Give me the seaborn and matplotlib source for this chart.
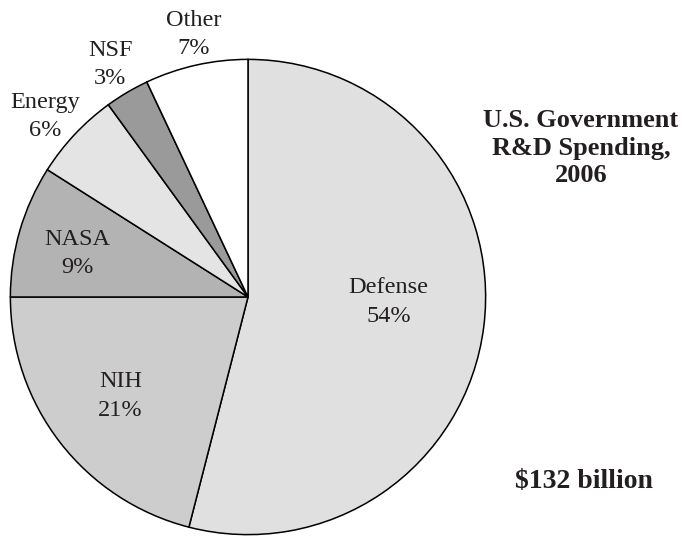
import matplotlib
matplotlib.use("Agg")
import matplotlib.pyplot as plt
import seaborn as sns

# data
categories = ["Defense", "NIH", "NASA", "Energy", "NSF", "Other"]
shares = [54, 21, 9, 6, 3, 7]
slice_colors = ["#e0e0e0", "#cdcdcd", "#b3b3b3", "#e4e4e4", "#9a9a9a", "#ffffff"]

TITLE = "U.S. Government\nR&D Spending,\n2006"
TOTAL = "$132 billion"

# label centres in pie data units (radius = 1)
label_pos = {
    "Defense": (0.592, -0.021),
    "NIH": (-0.537, -0.417),
    "NASA": (-0.717, 0.183),
    "Energy": (-0.854, 0.758),
    "NSF": (-0.579, 0.979),
    "Other": (-0.229, 1.104),
}

TEXT_COLOR = "#231f20"


def main():
    sns.set_theme(style="white")
    plt.rcParams["font.family"] = ["Liberation Serif", "DejaVu Serif"]

    fig = plt.figure(figsize=(6.82, 5.41), dpi=100)
    ax = fig.add_axes([8 / 682, 4 / 541, 480 / 682, 480 / 541])
    ax.pie(
        shares,
        colors=slice_colors,
        startangle=90,
        counterclock=False,
        radius=1,
        wedgeprops={"edgecolor": "black", "linewidth": 1.1},
    )
    ax.set_xlim(-1.01, 1.01)
    ax.set_ylim(-1.01, 1.01)
    ax.axis("off")

    for name, pct in zip(categories, shares):
        x, y = label_pos[name]
        ax.text(x, y, f"{name}\n{pct}%", ha="center", va="center",
                fontsize=17.5, color=TEXT_COLOR, linespacing=1.45, clip_on=False)

    fig.text(581 / 682, 1 - 148 / 541, TITLE, ha="center", va="center",
             fontsize=19, fontweight="bold", color=TEXT_COLOR, linespacing=1.25)
    fig.text(584 / 682, 1 - 482 / 541, TOTAL, ha="center", va="center",
             fontsize=20, fontweight="bold", color=TEXT_COLOR)

    fig.savefig("out.png", dpi=100)
    plt.close(fig)


if __name__ == "__main__":
    main()
